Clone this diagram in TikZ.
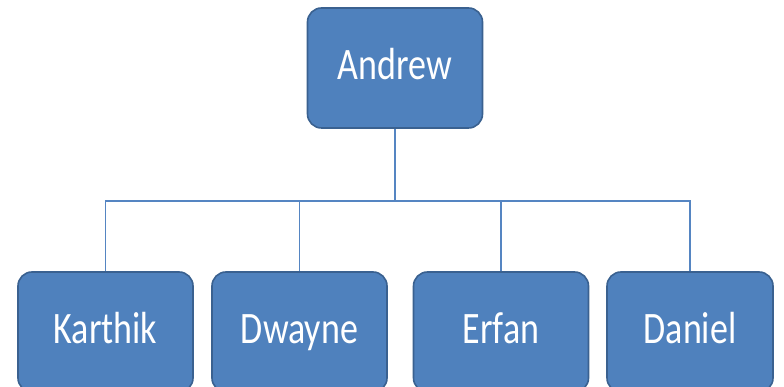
\documentclass[tikz,border=0pt]{standalone}
\usepackage{fontspec}
\setmainfont{Carlito}
\usepackage{tikz}
\usetikzlibrary{calc}

\definecolor{boxblue}{HTML}{4F81BD}
\definecolor{boxedge}{HTML}{3A6190}
\definecolor{wireblue}{HTML}{5585C2}

\begin{document}
\begin{tikzpicture}[x=1pt,y=1pt,
  person/.style={draw=boxedge, line width=1.6pt, fill=boxblue, rounded corners=14pt,
    minimum width=175pt, minimum height=120pt, text=white, inner sep=0pt,
    text height=32pt, text depth=8pt,
    font=\fontsize{36}{40}\selectfont},
  wire/.style={draw=wireblue, line width=1.1pt}]
\clip (0,0) rectangle (784,387);
\fill[white] (0,0) rectangle (784,387);
\node [person] (andrew) at (395,319) {\scalebox{1}[1.25]{Andrew}};
\node [person] (karthik) at (105.5,55) {\scalebox{1}[1.25]{Karthik}};
\node [person] (dwayne) at (299.5,55) {\scalebox{1}[1.25]{Dwayne}};
\node [person] (erfan) at (501,55) {\scalebox{1}[1.25]{Erfan}};
\node [person, minimum width=166pt] (daniel) at (690,55) {\scalebox{1}[1.25]{Daniel}};
\coordinate (bus) at (395,186);
\path[wire] (andrew.south) -- (bus);
\path[wire] (karthik.north) |- (bus) -| (daniel.north);
\path[wire] (dwayne.north) -- (dwayne.north |- bus);
\path[wire] (erfan.north) -- (erfan.north |- bus);
\end{tikzpicture}
\end{document}
